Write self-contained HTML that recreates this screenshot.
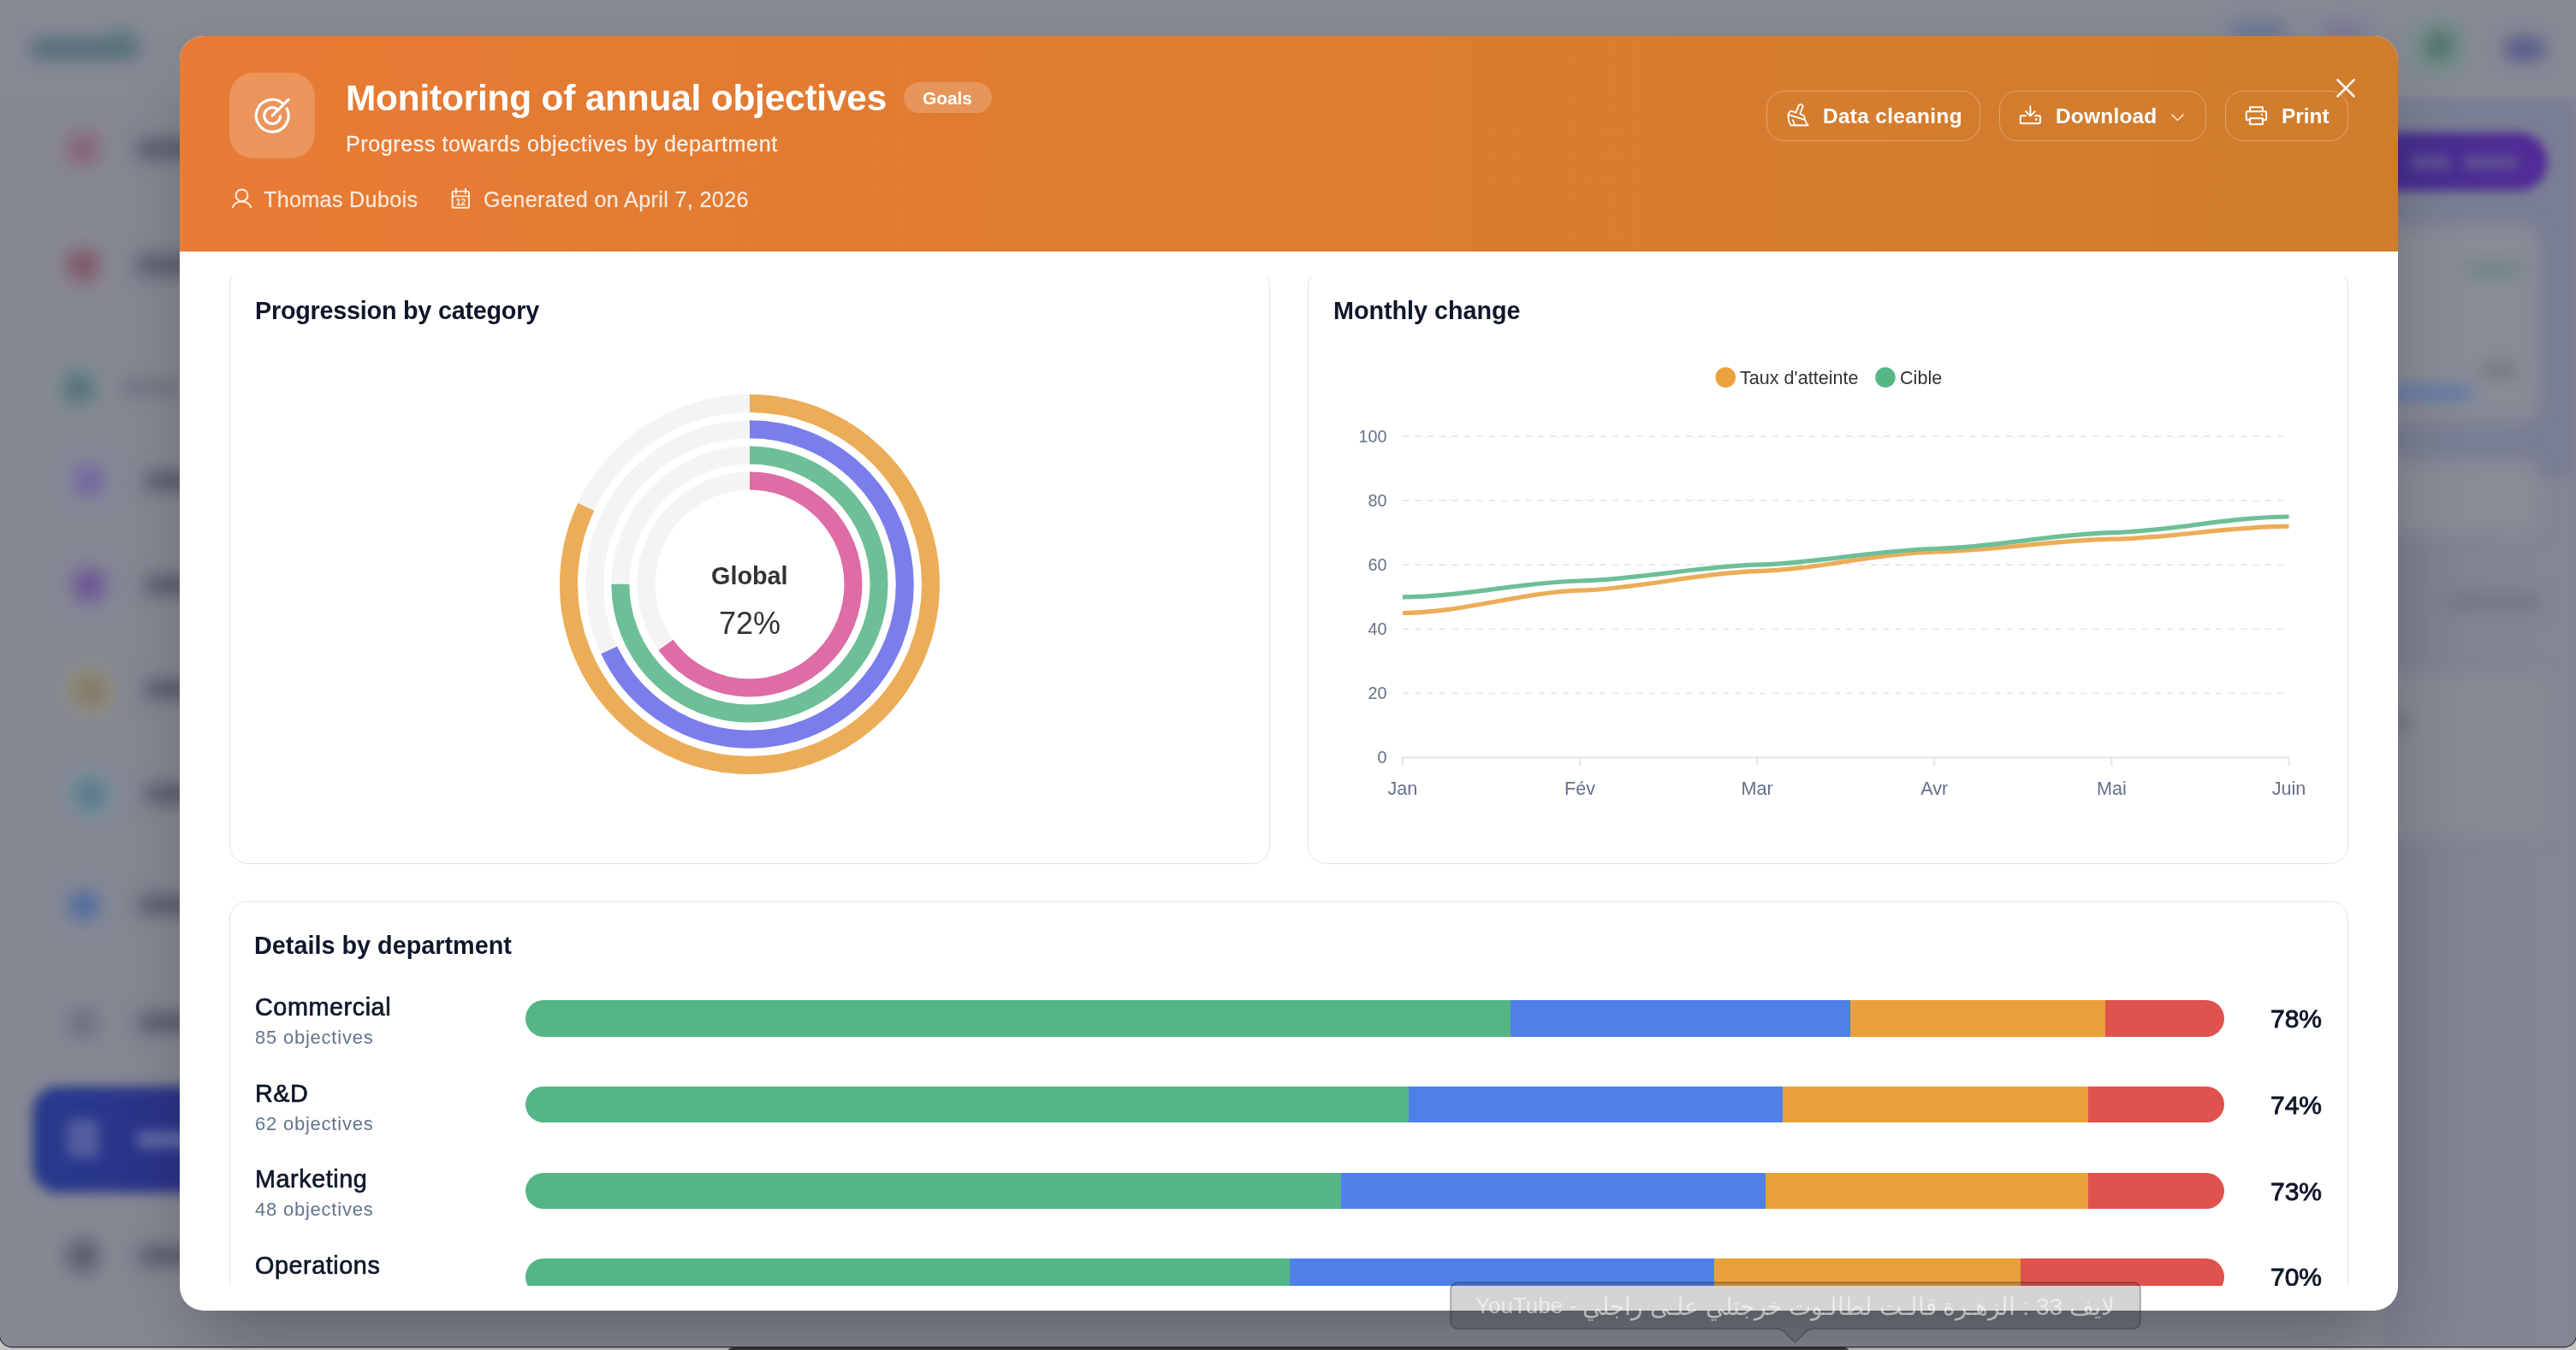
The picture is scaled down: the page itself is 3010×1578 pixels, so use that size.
<!DOCTYPE html>
<html><head><meta charset="utf-8"><title>Monitoring of annual objectives</title>
<style>
html,body{margin:0;padding:0}
body{width:3010px;height:1578px;overflow:hidden;position:relative;background:#c6c6c6;font-family:"Liberation Sans",sans-serif}
.t{position:absolute;white-space:nowrap;line-height:1;will-change:transform}
.abs{position:absolute}
.blur{filter:blur(10px)}
</style></head><body>

<div class="abs" id="backdrop" style="left:0;top:0;width:3010px;height:1574px;overflow:hidden;border-radius:0 0 14px 14px;background:#858893">
<div class="abs" style="left:2790px;top:114px;width:220px;height:1460px;background:#7a7e94;filter:blur(6px)"></div>
<div class="abs" style="left:2790px;top:560px;width:220px;height:1020px;background:linear-gradient(90deg,#7d8090,#838794);filter:blur(6px)"></div>
<div class="abs" style="left:0;top:0;width:3010px;height:112px;background:#868994"></div>
<div class="abs blur" style="left:0;top:0;width:3010px;height:1578px">
<div class="abs" style="left:36px;top:46px;width:126px;height:22px;background:#4f6b76;border-radius:8px"></div>
<div class="abs" style="left:128px;top:36px;width:30px;height:18px;background:#587a7c;border-radius:8px"></div>
<div class="abs" style="left:73.0px;top:150.0px;width:48px;height:48px;background:#8c7c8c;border-radius:14px"></div>
<div class="abs" style="left:82.0px;top:159.0px;width:30px;height:30px;background:#86627a;border-radius:8px"></div>
<div class="abs" style="left:73.0px;top:286.0px;width:48px;height:48px;background:#8a7884;border-radius:18px"></div>
<div class="abs" style="left:82.0px;top:295.0px;width:30px;height:30px;background:#7c5465;border-radius:12px"></div>
<div class="abs" style="left:67.7px;top:430.0px;width:48px;height:48px;background:#768c8f;border-radius:14px"></div>
<div class="abs" style="left:76.7px;top:439.0px;width:30px;height:30px;background:#536f76;border-radius:8px"></div>
<div class="abs" style="left:80.0px;top:538.0px;width:48px;height:48px;background:#837fa0;border-radius:14px"></div>
<div class="abs" style="left:89.0px;top:547.0px;width:30px;height:30px;background:#70689e;border-radius:8px"></div>
<div class="abs" style="left:78.0px;top:658.0px;width:52px;height:52px;background:#807a9c;border-radius:23px"></div>
<div class="abs" style="left:87.0px;top:667.0px;width:34px;height:34px;background:#6a5391;border-radius:17px"></div>
<div class="abs" style="left:78.5px;top:780.0px;width:54px;height:54px;background:#918f7e;border-radius:16px"></div>
<div class="abs" style="left:87.5px;top:789.0px;width:36px;height:36px;background:#857a6a;border-radius:10px"></div>
<div class="abs" style="left:79.5px;top:903.0px;width:52px;height:52px;background:#76919c;border-radius:16px"></div>
<div class="abs" style="left:88.5px;top:912.0px;width:34px;height:34px;background:#5c7a8b;border-radius:10px"></div>
<div class="abs" style="left:75.0px;top:1035.0px;width:46px;height:46px;background:#74819c;border-radius:20px"></div>
<div class="abs" style="left:84.0px;top:1044.0px;width:28px;height:28px;background:#4a679d;border-radius:14px"></div>
<div class="abs" style="left:74.0px;top:1172.5px;width:46px;height:46px;background:#80838f;border-radius:12px"></div>
<div class="abs" style="left:83.0px;top:1181.5px;width:28px;height:28px;background:#6c6f7d;border-radius:6px"></div>
<div class="abs" style="left:72.0px;top:1443.0px;width:50px;height:50px;background:#777a86;border-radius:21px"></div>
<div class="abs" style="left:81.0px;top:1452.0px;width:32px;height:32px;background:#585b68;border-radius:15px"></div>
<div class="abs" style="left:160px;top:163.0px;width:70px;height:22px;background:#585b6b;border-radius:6px"></div>
<div class="abs" style="left:160px;top:299.0px;width:70px;height:22px;background:#585b6b;border-radius:6px"></div>
<div class="abs" style="left:142px;top:445.5px;width:70px;height:13px;background:#6c6f7c;border-radius:6px"></div>
<div class="abs" style="left:170px;top:552.0px;width:70px;height:20px;background:#565968;border-radius:6px"></div>
<div class="abs" style="left:170px;top:674.0px;width:70px;height:20px;background:#565968;border-radius:6px"></div>
<div class="abs" style="left:170px;top:796.0px;width:70px;height:20px;background:#565968;border-radius:6px"></div>
<div class="abs" style="left:170px;top:918.0px;width:70px;height:20px;background:#565968;border-radius:6px"></div>
<div class="abs" style="left:162px;top:1048.0px;width:70px;height:20px;background:#565968;border-radius:6px"></div>
<div class="abs" style="left:162px;top:1185.0px;width:70px;height:20px;background:#565968;border-radius:6px"></div>
<div class="abs" style="left:162px;top:1458.0px;width:70px;height:20px;background:#565968;border-radius:6px"></div>
<div class="abs" style="left:2819px;top:25px;width:62px;height:62px;background:#748d8a;border-radius:14px"></div>
<div class="abs" style="left:2835px;top:38px;width:30px;height:30px;background:#4f6f69;border-radius:10px"></div>
<div class="abs" style="left:2926px;top:44px;width:48px;height:26px;background:#56588c;border-radius:12px"></div>
<div class="abs" style="left:2605px;top:24px;width:66px;height:30px;background:#6d7896;border-radius:12px"></div>
<div class="abs" style="left:2712px;top:26px;width:56px;height:26px;background:#7b7896;border-radius:12px"></div>
<div class="abs" style="left:2700px;top:264px;width:268px;height:228px;background:#888b95;border-radius:20px"></div>
<div class="abs" style="left:2878px;top:308px;width:68px;height:14px;background:#698480;border-radius:6px"></div>
<div class="abs" style="left:2900px;top:426px;width:40px;height:14px;background:#6f727e;border-radius:6px"></div>
<div class="abs" style="left:2700px;top:454px;width:190px;height:12px;background:#4f6fb0;border-radius:6px"></div>
<div class="abs" style="left:2700px;top:538px;width:268px;height:86px;background:#888b95;border-radius:20px"></div>
<div class="abs" style="left:2860px;top:696px;width:110px;height:14px;background:#6f727e;border-radius:6px"></div>
<div class="abs" style="left:2700px;top:788px;width:282px;height:190px;background:#868993;border-radius:20px"></div>
<div class="abs" style="left:2790px;top:834px;width:24px;height:20px;background:#6f727e;border-radius:6px"></div>
</div>
<div class="abs" style="left:0;top:1200px;width:400px;height:300px;filter:blur(7px)">
<div class="abs" style="left:38px;top:70px;width:300px;height:124px;background:linear-gradient(90deg,#27398c,#2f2f86);border-radius:30px"></div>
<div class="abs" style="left:78px;top:108px;width:38px;height:46px;background:#525c9e;border-radius:9px"></div>
<div class="abs" style="left:160px;top:122px;width:70px;height:20px;background:#5f67a6;border-radius:6px"></div>
</div>
<div class="abs" style="left:0;top:0;width:3010px;height:400px;filter:blur(6px)">
<div class="abs" style="left:2700px;top:155px;width:277px;height:68px;background:linear-gradient(90deg,#3c2f88,#532c98);border-radius:34px"></div>
<div class="abs" style="left:2815px;top:182px;width:50px;height:16px;background:#5d4d93;border-radius:8px"></div>
<div class="abs" style="left:2878px;top:182px;width:66px;height:16px;background:#5d4d93;border-radius:8px"></div>
</div>
</div>
<div class="abs" style="left:0;top:1574px;width:3010px;height:4px;background:#c6c6c6;z-index:0"></div>
<div class="abs" style="left:850px;top:1575px;width:1311px;height:6px;background:#3a3a3c;border-radius:6px 6px 0 0"></div>
<div class="abs" style="left:0;top:0;width:3010px;height:1574px;border-radius:0 0 14px 14px;box-shadow:0 0 0 1.2px #2b2b2d;pointer-events:none"></div>
<div class="abs" style="left:210px;top:42px;width:2592px;height:1490px;border-radius:28px;background:#fff;overflow:hidden;box-shadow:0 45px 90px -21.6px rgba(0,0,0,.3)">
<div class="abs" style="left:0;top:0;width:2592px;height:252px;background:linear-gradient(90deg,#e87b35 0%,#de7c31 45%,#cf7d2d 100%)"></div>
<div class="abs" style="left:58px;top:43px;width:100px;height:100px;border-radius:28px;background:rgba(255,255,255,.2)"></div>
<svg class="abs" style="left:82.80000000000001px;top:67.8px" width="50.4" height="50.4" viewBox="0 0 256 256" fill="none" stroke="#fff" stroke-width="16" stroke-linecap="round" stroke-linejoin="round">
<path d="M195.9,60.1 A96,96 0 1 0 214.3,85.9"/><path d="M161.9,94.1 A48,48 0 1 0 176,129.7"/><path d="M128,128 L224,32"/></svg>
<div class="t" style="left:194.2px;top:51.9px;font-size:42.4px;font-weight:700;color:#fff;letter-spacing:-0.2px;">Monitoring of annual objectives</div>
<div class="abs" style="left:846px;top:54px;width:103px;height:36px;border-radius:18px;background:rgba(255,255,255,.2)"></div>
<div class="t" style="left:868.0px;top:62.0px;font-size:21px;font-weight:700;color:#fff;letter-spacing:-0.1px;">Goals</div>
<div class="t" style="left:194.2px;top:114.0px;font-size:25.2px;font-weight:400;color:rgba(255,255,255,.88);letter-spacing:0.53px;-webkit-text-stroke:0.35px rgba(255,255,255,.55);">Progress towards objectives by department</div>
<svg class="abs" style="left:56px;top:173px" width="34" height="34" viewBox="266 215 34 34" fill="none" stroke="rgba(255,255,255,.85)" stroke-width="2" stroke-linecap="round" stroke-linejoin="round">
<circle cx="282.5" cy="228.4" r="6.9"/><path d="M271.9,242.4 C275,233.6 290,233.6 293.2,242.4"/></svg>
<div class="t" style="left:98.0px;top:179.0px;font-size:25.2px;font-weight:400;color:rgba(255,255,255,.82);letter-spacing:0.3px;-webkit-text-stroke:0.3px rgba(255,255,255,.5);">Thomas Dubois</div>
<svg class="abs" style="left:312px;top:173px" width="34" height="34" viewBox="522 215 34 34" fill="none" stroke="rgba(255,255,255,.85)" stroke-width="1.9" stroke-linecap="round" stroke-linejoin="round">
<rect x="528.6" y="223.6" width="19.4" height="19.2" rx="1.6"/><path d="M532.8,220.6 v5.6 M543.9,220.6 v5.6 M528.6,229.4 H548"/>
<text x="538.5" y="239.6" font-family="Liberation Sans" font-size="10.4" font-weight="700" text-anchor="middle" fill="rgba(255,255,255,.9)" stroke="none">12</text></svg>
<div class="t" style="left:354.5px;top:179.0px;font-size:25.2px;font-weight:400;color:rgba(255,255,255,.82);letter-spacing:0.34px;-webkit-text-stroke:0.3px rgba(255,255,255,.5);">Generated on April 7, 2026</div>
<div class="abs" style="left:1854px;top:64px;width:250px;height:59px;box-sizing:border-box;border:1.6px solid rgba(255,255,255,.3);border-radius:21px;background:transparent"></div>
<div class="abs" style="left:2126px;top:64px;width:242px;height:59px;box-sizing:border-box;border:1.6px solid rgba(255,255,255,.3);border-radius:21px;background:transparent"></div>
<div class="abs" style="left:2390px;top:64px;width:144px;height:59px;box-sizing:border-box;border:1.6px solid rgba(255,255,255,.3);border-radius:21px;background:transparent"></div>
<svg class="abs" style="left:1870px;top:68px" width="50" height="50" viewBox="0 0 1350 1350" fill="none" stroke="#fff" stroke-width="50" stroke-linecap="round" stroke-linejoin="round">
<path d="M258,665 Q268,565 345,532 L500,582 L585,362 Q615,305 680,337 Q735,367 710,422 L630,620 L745,682 Q780,702 775,772 Q795,885 880,985 L338,985 Q252,860 258,665 Z"/><path d="M292,655 L752,802"/><path d="M405,818 L455,952"/></svg>
<div class="t" style="left:1919.8px;top:82.3px;font-size:24.4px;font-weight:700;color:#fff;letter-spacing:0.33px;">Data cleaning</div>
<svg class="abs" style="left:2140px;top:68px" width="50" height="50" viewBox="0 0 1350 1350" fill="none" stroke="#fff" stroke-width="52" stroke-linecap="round" stroke-linejoin="round">
<path d="M605,362 V690 M445,528 L605,690 L765,528" stroke-linecap="butt"/><path d="M465,680 H320 a30,30 0 0 0 -30,30 V895 a30,30 0 0 0 30,30 H885 a30,30 0 0 0 30,-30 V710 a30,30 0 0 0 -30,-30 H755"/><circle cx="790" cy="800" r="36" fill="#fff" stroke="none"/></svg>
<div class="t" style="left:2191.5px;top:82.3px;font-size:24.4px;font-weight:700;color:#fff;letter-spacing:0.25px;">Download</div>
<svg class="abs" style="left:2326px;top:87px" width="17" height="17" viewBox="0 0 256 256" fill="none" stroke="#fff" stroke-width="18" stroke-linecap="round" stroke-linejoin="round">
<path d="M28,76 l100,100 l100,-100"/></svg>
<svg class="abs" style="left:2402px;top:68px" width="50" height="50" viewBox="0 0 1350 1350" fill="none" stroke="#fff" stroke-width="54" stroke-linecap="round" stroke-linejoin="round">
<path d="M460,545 V410 H860 V545"/><path d="M460,820 H375 a30,30 0 0 1 -30,-30 V575 a30,30 0 0 1 30,-30 H945 a30,30 0 0 1 30,30 V790 a30,30 0 0 1 -30,30 H860"/><rect x="460" y="765" width="400" height="185"/><circle cx="840" cy="650" r="32" fill="#fff" stroke="none"/></svg>
<div class="t" style="left:2455.5px;top:82.3px;font-size:24.4px;font-weight:700;color:#fff;letter-spacing:0px;">Print</div>
<svg class="abs" style="left:2520px;top:50px" width="22" height="22" viewBox="0 0 22 22" fill="none" stroke="rgba(255,255,255,.9)" stroke-width="2.6" stroke-linecap="round"><path d="M1.5,1.5 L20.5,20.5 M20.5,1.5 L1.5,20.5"/></svg>
<div class="abs" style="left:0;top:281px;width:2592px;height:1180px;overflow:hidden">
<div class="abs" style="left:58px;top:-10px;width:1216px;height:697px;box-sizing:border-box;border:1px solid #e1e7ef;border-radius:21.6px;background:#fff"></div>
<div class="abs" style="left:1318px;top:-10px;width:1216px;height:697px;box-sizing:border-box;border:1px solid #e1e7ef;border-radius:21.6px;background:#fff"></div>
<div class="abs" style="left:58px;top:730px;width:2476px;height:647px;box-sizing:border-box;border:1px solid #e1e7ef;border-radius:21.6px;background:#fff"></div>
<div class="t" style="left:87.8px;top:25.9px;font-size:28.8px;font-weight:700;color:#0f172a;letter-spacing:-0.25px;">Progression by category</div>
<div class="t" style="left:1347.8px;top:25.9px;font-size:28.8px;font-weight:700;color:#0f172a;letter-spacing:-0.05px;">Monthly change</div>
<div class="t" style="left:87.4px;top:767.7px;font-size:28.8px;font-weight:700;color:#0f172a;letter-spacing:0.0px;">Details by department</div>
<svg class="abs" style="left:425.6px;top:120px" width="480" height="480" viewBox="-240 -240 480 480" fill="none"><circle r="211.5" stroke="#f4f4f4" stroke-width="21"/><circle r="211.5" stroke="#ebad57" stroke-width="21" stroke-dasharray="1089.69 1328.89" transform="rotate(-90)"/><circle r="181.3" stroke="#f4f4f4" stroke-width="21"/><circle r="181.3" stroke="#7b7eea" stroke-width="21" stroke-dasharray="774.62 1139.14" transform="rotate(-90)"/><circle r="151.1" stroke="#f4f4f4" stroke-width="21"/><circle r="151.1" stroke="#6dbf97" stroke-width="21" stroke-dasharray="712.04 949.39" transform="rotate(-90)"/><circle r="121.0" stroke="#f4f4f4" stroke-width="21"/><circle r="121.0" stroke="#de6ca6" stroke-width="21" stroke-dasharray="494.17 760.27" transform="rotate(-90)"/></svg>
<div class="t" style="left:620.9px;top:335.6px;font-size:28.8px;font-weight:700;color:#333;letter-spacing:0px;">Global</div>
<div class="t" style="left:630.0px;top:388.1px;font-size:36px;font-weight:400;color:#333;letter-spacing:0px;">72%</div>
<svg class="abs" style="left:1318px;top:-3px" width="1216" height="690" viewBox="1528 320 1216 690" fill="none" font-family="Liberation Sans, sans-serif"><path d="M1638.9,810.3 H2669.5" stroke="#e0e6f1" stroke-width="1.8" stroke-dasharray="7.2 7.2"/><path d="M1638.9,735.3 H2669.5" stroke="#e0e6f1" stroke-width="1.8" stroke-dasharray="7.2 7.2"/><path d="M1638.9,660.2 H2669.5" stroke="#e0e6f1" stroke-width="1.8" stroke-dasharray="7.2 7.2"/><path d="M1638.9,585.2 H2669.5" stroke="#e0e6f1" stroke-width="1.8" stroke-dasharray="7.2 7.2"/><path d="M1638.9,510.2 H2669.5" stroke="#e0e6f1" stroke-width="1.8" stroke-dasharray="7.2 7.2"/><path d="M1637.9,885.3 H2675.5" stroke="#dfe1e6" stroke-width="1.8"/><path d="M1638.9,885.3 v9.5" stroke="#dfe1e6" stroke-width="1.8"/><path d="M1846.0,885.3 v9.5" stroke="#dfe1e6" stroke-width="1.8"/><path d="M2053.1,885.3 v9.5" stroke="#dfe1e6" stroke-width="1.8"/><path d="M2260.3,885.3 v9.5" stroke="#dfe1e6" stroke-width="1.8"/><path d="M2467.4,885.3 v9.5" stroke="#dfe1e6" stroke-width="1.8"/><path d="M2674.5,885.3 v9.5" stroke="#dfe1e6" stroke-width="1.8"/><text x="1620.5" y="892.4" font-size="19.8" fill="#64708a" text-anchor="end">0</text><text x="1620.5" y="817.4" font-size="19.8" fill="#64708a" text-anchor="end">20</text><text x="1620.5" y="742.4" font-size="19.8" fill="#64708a" text-anchor="end">40</text><text x="1620.5" y="667.3" font-size="19.8" fill="#64708a" text-anchor="end">60</text><text x="1620.5" y="592.3" font-size="19.8" fill="#64708a" text-anchor="end">80</text><text x="1620.5" y="517.3" font-size="19.8" fill="#64708a" text-anchor="end">100</text><text x="1638.9" y="929" font-size="21.6" fill="#64708a" text-anchor="middle">Jan</text><text x="1846.0" y="929" font-size="21.6" fill="#64708a" text-anchor="middle">Fév</text><text x="2053.1" y="929" font-size="21.6" fill="#64708a" text-anchor="middle">Mar</text><text x="2260.3" y="929" font-size="21.6" fill="#64708a" text-anchor="middle">Avr</text><text x="2467.4" y="929" font-size="21.6" fill="#64708a" text-anchor="middle">Mai</text><text x="2674.5" y="929" font-size="21.6" fill="#64708a" text-anchor="middle">Juin</text><path d="M1638.9,716.5 C1707.2,716.5 1777.7,692.3 1846.0,690.2 C1914.4,688.2 1984.8,669.6 2053.1,667.7 C2121.5,665.9 2191.9,646.8 2260.3,645.2 C2328.6,643.7 2399.0,631.5 2467.4,630.2 C2535.7,629.0 2606.2,615.2 2674.5,615.2" stroke="#ebad57" stroke-width="5.2"/><path d="M1638.9,697.8 C1707.2,697.8 1777.7,680.5 1846.0,679.0 C1914.4,677.4 1984.8,661.8 2053.1,660.2 C2121.5,658.7 2191.9,643.0 2260.3,641.5 C2328.6,639.9 2399.0,624.3 2467.4,622.7 C2535.7,621.2 2606.2,604.0 2674.5,604.0" stroke="#6dbf97" stroke-width="5.2"/><circle cx="2016.3" cy="441.1" r="11.8" fill="#eba13c"/><circle cx="2203" cy="441.1" r="11.8" fill="#56b686"/><text x="2033" y="448.9" font-size="21.6" fill="#333">Taux d'atteinte</text><text x="2220" y="448.9" font-size="21.6" fill="#333">Cible</text></svg>
<div class="t" style="left:88.3px;top:839.9px;font-size:28.8px;font-weight:400;color:#0f172a;letter-spacing:0.55px;-webkit-text-stroke:0.7px #0f172a;">Commercial</div>
<div class="t" style="left:88.3px;top:878.9px;font-size:22px;font-weight:400;color:#64748b;letter-spacing:0.77px;">85 objectives</div>
<div class="abs" style="left:404.20000000000005px;top:846.0999999999999px;width:1984.4999999999998px;height:42.6px;border-radius:21.3px;overflow:hidden;display:flex">
<div style="width:58%;height:100%;background:#55b685"></div>
<div style="width:20%;height:100%;background:#4f80ea"></div>
<div style="width:15%;height:100%;background:#e8a03a"></div>
<div style="width:7%;height:100%;background:#df524d"></div>
</div>
<div class="t" style="left:2443.0px;top:853.3px;font-size:30px;font-weight:400;color:#0f172a;letter-spacing:0px;-webkit-text-stroke:0.9px #0f172a;">78%</div>
<div class="t" style="left:88.3px;top:940.6px;font-size:28.8px;font-weight:400;color:#0f172a;letter-spacing:0.55px;-webkit-text-stroke:0.7px #0f172a;">R&amp;D</div>
<div class="t" style="left:88.3px;top:979.6px;font-size:22px;font-weight:400;color:#64748b;letter-spacing:0.77px;">62 objectives</div>
<div class="abs" style="left:404.20000000000005px;top:946.8px;width:1984.4999999999998px;height:42.6px;border-radius:21.3px;overflow:hidden;display:flex">
<div style="width:52%;height:100%;background:#55b685"></div>
<div style="width:22%;height:100%;background:#4f80ea"></div>
<div style="width:18%;height:100%;background:#e8a03a"></div>
<div style="width:8%;height:100%;background:#df524d"></div>
</div>
<div class="t" style="left:2443.0px;top:954.0px;font-size:30px;font-weight:400;color:#0f172a;letter-spacing:0px;-webkit-text-stroke:0.9px #0f172a;">74%</div>
<div class="t" style="left:88.3px;top:1041.3px;font-size:28.8px;font-weight:400;color:#0f172a;letter-spacing:0.55px;-webkit-text-stroke:0.7px #0f172a;">Marketing</div>
<div class="t" style="left:88.3px;top:1080.3px;font-size:22px;font-weight:400;color:#64748b;letter-spacing:0.77px;">48 objectives</div>
<div class="abs" style="left:404.20000000000005px;top:1047.5px;width:1984.4999999999998px;height:42.6px;border-radius:21.3px;overflow:hidden;display:flex">
<div style="width:48%;height:100%;background:#55b685"></div>
<div style="width:25%;height:100%;background:#4f80ea"></div>
<div style="width:19%;height:100%;background:#e8a03a"></div>
<div style="width:8%;height:100%;background:#df524d"></div>
</div>
<div class="t" style="left:2443.0px;top:1054.7px;font-size:30px;font-weight:400;color:#0f172a;letter-spacing:0px;-webkit-text-stroke:0.9px #0f172a;">73%</div>
<div class="t" style="left:88.3px;top:1142.0px;font-size:28.8px;font-weight:400;color:#0f172a;letter-spacing:0.55px;-webkit-text-stroke:0.7px #0f172a;">Operations</div>
<div class="t" style="left:88.3px;top:1181.0px;font-size:22px;font-weight:400;color:#64748b;letter-spacing:0.77px;">41 objectives</div>
<div class="abs" style="left:404.20000000000005px;top:1148.1999999999998px;width:1984.4999999999998px;height:42.6px;border-radius:21.3px;overflow:hidden;display:flex">
<div style="width:45%;height:100%;background:#55b685"></div>
<div style="width:25%;height:100%;background:#4f80ea"></div>
<div style="width:18%;height:100%;background:#e8a03a"></div>
<div style="width:12%;height:100%;background:#df524d"></div>
</div>
<div class="t" style="left:2443.0px;top:1155.4px;font-size:30px;font-weight:400;color:#0f172a;letter-spacing:0px;-webkit-text-stroke:0.9px #0f172a;">70%</div>
</div>
</div>
<svg class="abs" style="left:1690px;top:1494px" width="820" height="80" viewBox="1690 1494 820 80">
<path d="M1703,1499 H2493 a8,8 0 0 1 8,8 V1545 a8,8 0 0 1 -8,8 H2120 q-8,0 -13,7 l-9.5,9 l-9.5,-9 q-5,-7 -13,-7 H1703 a8,8 0 0 1 -8,-8 V1507 a8,8 0 0 1 8,-8 Z" fill="rgba(40,40,44,.2)" stroke="rgba(30,30,36,.35)" stroke-width="1.6"/></svg>
<div class="t" style="left:1724px;top:1513px;width:747px;font-size:26px;color:rgba(255,255,255,.55);direction:ltr;display:flex;justify-content:space-between"><span>YouTube -&nbsp;</span><span dir="rtl" style="font-size:28.2px">لايف 33 : الزهـرة قالـت لطالـوت خرجتلي علـى راجلي</span></div>
</body></html>
